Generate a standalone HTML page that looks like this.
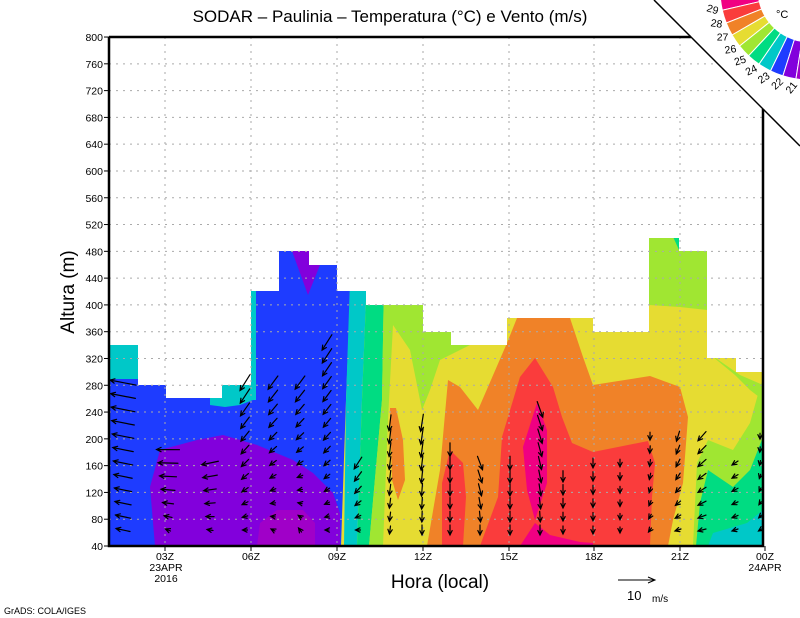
<!DOCTYPE html>
<html><head><meta charset="utf-8"><style>
html,body{margin:0;padding:0;background:#fff;width:800px;height:618px;overflow:hidden}
svg text{font-family:"Liberation Sans",sans-serif;fill:#000}
</style></head><body>
<svg id="s" width="800" height="618" viewBox="0 0 800 618" xmlns="http://www.w3.org/2000/svg">
<defs>
<clipPath id="env"><polygon points="109,345 138,345 138,385 166,385 166,398 222,398 222,385 251,385 251,291 279,291 279,251 309,251 309,265 337,265 337,291 366,291 366,305 423,305 423,332 451,332 451,345 507,345 507,318 593,318 593,332 649,332 649,238 679,238 679,251 707,251 707,358 736,358 736,372 763,372 763,546 109,546"/></clipPath>
</defs>
<g clip-path="url(#env)">
<rect x="100" y="200" width="670" height="360" fill="#e6dc32"/>
<!-- left blue -->
<polygon points="100,200 352,200 350,300 346,400 341,546 100,546" fill="#1e3cff"/>
<rect x="100" y="340" width="38" height="39" fill="#00c8c8"/>
<polygon points="210,380 251,380 253,400 240,405 225,407 210,405" fill="#00c8c8"/>
<polygon points="251,290 256,290 256,400 251,400" fill="#00c8c8"/>
<polygon points="288,240 320,240 320,265 308,295" fill="#8200dc"/>
<polygon points="155,546 150,487 160,450 197,440 223,435 257,445 293,460 313,473 333,493 340,513 340,546" fill="#8200dc"/>
<polygon points="257,546 260,523 277,510 303,510 315,523 315,546" fill="#a000c8"/>
<!-- bands -->
<polygon points="350,280 366,280 366,300 362,400 357,546 344,546 346,400" fill="#00c8c8"/>
<polygon points="366,280 384,280 382,400 369,546 357,546 362,400 366,300" fill="#00dc82"/>
<polygon points="384,280 470,280 470,345 440,360 430,390 422,410 410,350 393,325 388,420 383,546 369,546 382,400" fill="#a0e632"/>
<polygon points="390,408 396,408 403,440 405,480 398,500 392,480" fill="#f08228"/>
<polygon points="427,546 440,470 448,380 460,387 478,410 507,343 517,318 570,318 583,357 593,385 650,376 680,387 688,417 683,483 673,520 668,546" fill="#f08228"/>
<polygon points="442,546 442,483 450,450 463,463 466,497 463,546" fill="#fa3c3c"/>
<polygon points="480,546 498,497 502,437 520,377 535,358 553,387 562,417 572,443 593,452 648,441 655,463 652,497 650,546" fill="#fa3c3c"/>
<polygon points="523,447 537,403 547,430 547,483 535,520 527,490" fill="#f00082"/>
<polygon points="520,546 535,523 550,535 580,542 593,543 593,546" fill="#f00082"/>
<!-- right -->
<polygon points="649,200 707,200 707,310 680,307 649,305" fill="#a0e632"/>
<polygon points="707,352 740,375 763,385 763,400 750,390 735,375" fill="#a0e632"/>
<polygon points="693,546 697,463 708,440 733,450 750,423 760,387 766,372 766,546" fill="#a0e632"/>
<polygon points="696,546 700,503 708,470 733,487 750,470 763,437 766,437 766,546" fill="#00dc82"/>
<polygon points="708,546 713,533 747,523 763,510 766,510 766,546" fill="#00c8c8"/>
<polygon points="670,230 679,230 679,250" fill="#00dc82"/>
</g>
<g id="grid" stroke="#aaa" stroke-width="1" stroke-dasharray="2,5" fill="none"></g>
<g id="arrows" stroke="#000" stroke-width="1.2" fill="none" stroke-linecap="round"></g>
<polygon points="654,0 800,146 800,0" fill="#fff"/>
<g stroke="#000" stroke-width="2.5" fill="none">
<polyline points="109,37 691,37"/>
<polyline points="763,109 763,546 109,546 109,37"/>
</g>
<line x1="654" y1="0" x2="800" y2="146" stroke="#000" stroke-width="1.5"/>
<g id="cb"></g>
<g id="lbl" font-size="10.5"></g>
<text x="390" y="22" font-size="17" text-anchor="middle">SODAR – Paulinia – Temperatura (°C) e Vento (m/s)</text>
<text transform="translate(74,292) rotate(-90)" font-size="19" text-anchor="middle">Altura (m)</text>
<text x="440" y="588" font-size="19" text-anchor="middle">Hora (local)</text>
<line x1="618" y1="580" x2="654" y2="580" stroke="#000" stroke-width="1"/>
<polyline points="648,577 655,580 648,583" stroke="#000" fill="none"/>
<text x="627" y="600" font-size="13">10</text><text x="652" y="602" font-size="10">m/s</text>
<text x="4" y="614" font-size="9">GrADS: COLA/IGES</text>
<text x="776" y="18" font-size="11">°C</text>
</svg>
<script>
var NS="http://www.w3.org/2000/svg";
function el(p,t,a,txt){var e=document.createElementNS(NS,t);for(var k in a)e.setAttribute(k,a[k]);if(txt!=null)e.textContent=txt;document.getElementById(p).appendChild(e);return e;}
function Y(m){return 546-(m-40)*0.6697;}
var xs=[165,251,337,423,509,594,680];
for(var m=80;m<=760;m+=40){var y=Y(m);el("grid","line",{x1:109,y1:y,x2:763,y2:y});}
xs.forEach(function(x){el("grid","line",{x1:x,y1:37,x2:x,y2:546});});
for(var m=40;m<=800;m+=40){var y=Y(m);el("lbl","text",{x:103,y:y+4,"text-anchor":"end"},String(m));el("lbl","line",{x1:104,y1:y,x2:109,y2:y,stroke:"#000"});}
var names=["03Z","06Z","09Z","12Z","15Z","18Z","21Z","00Z"];
xs.concat([765]).forEach(function(x,i){el("lbl","line",{x1:x,y1:546,x2:x,y2:551,stroke:"#000"});el("lbl","text",{x:x,y:560,"text-anchor":"middle"},names[i]);});
el("lbl","text",{x:166,y:571,"text-anchor":"middle"},"23APR");
el("lbl","text",{x:166,y:582,"text-anchor":"middle"},"2016");
el("lbl","text",{x:765,y:571,"text-anchor":"middle"},"24APR");
// arrows
var cols=[[123,380,-26,-5,-14,-3],[168,440,-25,0,-5,-2],[210,455,-18,4,-6,-1],[245,380,-10,16,-5,0],[273,375,-10,14,-4,-2],[300,375,-10,14,-3,-4],[327,335,-10,16,-4,0],[358,450,-8,14,-5,0],[390,420,-2,16,-1,8],[422,410,-3,18,0,10],[450,440,0,14,0,10],[480,450,6,14,0,10],[510,455,0,14,0,10],[540,400,6,16,0,10],[563,465,0,12,0,8],[593,455,0,10,0,8],[620,450,0,8,0,6],[650,435,0,8,-3,4],[678,435,-3,10,-6,2],[702,425,-8,10,-8,2],[735,460,-6,4,-6,2],[760,435,0,6,-3,2]];
cols.forEach(function(c){var top=c[1],bot=530;for(var y=bot;y>=top;y-=13.4){var f=(bot-y)/Math.max(1,bot-top);var dx=c[4]+(c[2]-c[4])*f,dy=c[5]+(c[3]-c[5])*f;var hx=c[0]+dx/2,hy=y+dy/2,tx=c[0]-dx/2,ty=y-dy/2;var L=Math.hypot(dx,dy)||1,ux=dx/L,uy=dy/L;var b=5,a=0.45;var ca=Math.cos(a),sa=Math.sin(a);var b1x=hx-b*(ux*ca-uy*sa),b1y=hy-b*(uy*ca+ux*sa),b2x=hx-b*(ux*ca+uy*sa),b2y=hy-b*(uy*ca-ux*sa);el("arrows","path",{d:"M"+tx+","+ty+"L"+hx+","+hy+"M"+b1x+","+b1y+"L"+hx+","+hy+"L"+b2x+","+b2y});}});
// colorbar
var cx=810,cy=-10,R1=52,R2=90;var colors=["#f00082","#fa3c3c","#f08228","#e6dc32","#a0e632","#00dc82","#00c8c8","#1e3cff","#8200dc","#a000c8"];
var start=175.5,st=8.5;
function P(r,d){var a=d*Math.PI/180;return [cx+r*Math.cos(a),cy+r*Math.sin(a)];}
colors.forEach(function(col,i){var a1=start-i*st,a2=a1-st;var p1=P(R2,a1),p2=P(R2,a2),p3=P(R1,a2),p4=P(R1,a1);el("cb","path",{d:"M"+p1+"A"+R2+","+R2+" 0 0 0 "+p2+"L"+p3+"A"+R1+","+R1+" 0 0 1 "+p4+"Z",fill:col,stroke:"#fff","stroke-width":1});});
for(var i=0;i<9;i++){var d=start-(i+1)*st;var p=P(101,d);el("cb","text",{x:p[0],y:p[1],"font-size":10.5,"text-anchor":"middle",transform:"rotate("+(d-150)+" "+p[0]+" "+p[1]+")"},String(29-i));}
</script>
</body></html>
